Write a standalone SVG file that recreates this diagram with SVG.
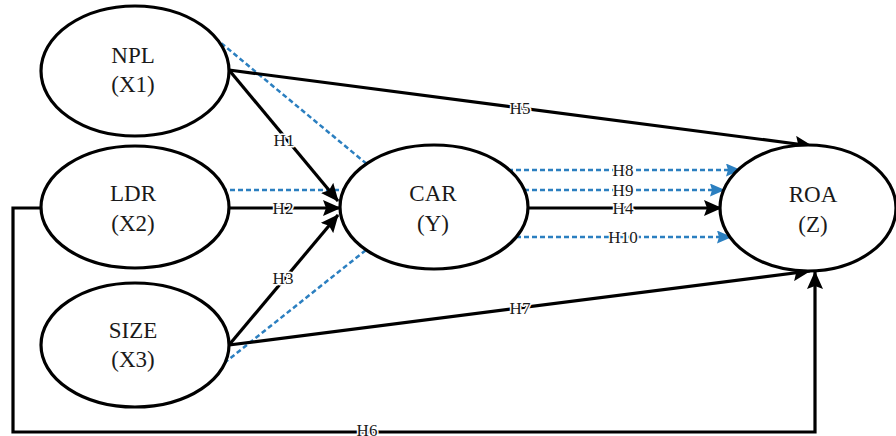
<svg xmlns="http://www.w3.org/2000/svg" width="896" height="436" viewBox="0 0 896 436">
<style>
.node{fill:#fff;stroke:#000;stroke-width:3.2}
.nt{font-family:"Liberation Serif","Times New Roman",serif;font-size:23px;fill:#1a1a1a;text-anchor:middle}
.ln{fill:none;stroke:#000;stroke-width:3.2}
.ds{fill:none;stroke:#2b7fc0;stroke-width:2.5;stroke-dasharray:5 3}
.lb{font-family:"Liberation Serif","Times New Roman",serif;font-size:17px;fill:#1a1a1a;text-anchor:middle;stroke:#fff;stroke-width:3;paint-order:stroke;stroke-linejoin:round}
</style>
<defs>
<marker id="ab" markerUnits="userSpaceOnUse" markerWidth="18" markerHeight="16" refX="17" refY="8" orient="auto"><path d="M0,0 L18,8 L0,16 L3,8 z" fill="#000"/></marker>
<marker id="abl" markerUnits="userSpaceOnUse" markerWidth="15" markerHeight="13" refX="14" refY="6.5" orient="auto"><path d="M0,0 L15,6.5 L0,13 L2,6.5 z" fill="#2b7fc0"/></marker>
</defs>
<rect width="896" height="436" fill="#fff"/>
<g id="connectors">
<line class="ds" x1="215" y1="38" x2="368" y2="165"/>
<line class="ds" x1="222" y1="190" x2="346" y2="190"/>
<line class="ds" x1="218" y1="368" x2="366" y2="250"/>
<line class="ln" x1="229" y1="70" x2="338" y2="201" marker-end="url(#ab)"/>
<line class="ln" x1="229" y1="208" x2="340" y2="208" marker-end="url(#ab)"/>
<line class="ln" x1="229" y1="345" x2="338" y2="215" marker-end="url(#ab)"/>
<line class="ln" x1="229" y1="70" x2="812" y2="146" marker-end="url(#ab)"/>
<line class="ln" x1="229" y1="345" x2="810" y2="271" marker-end="url(#ab)"/>
<path class="ln" d="M41 208 H13 V432 H815 V272" marker-end="url(#ab)"/>
<line class="ds" x1="508" y1="170" x2="740" y2="170" marker-end="url(#abl)"/>
<line class="ds" x1="524" y1="190" x2="724" y2="190" marker-end="url(#abl)"/>
<line class="ln" x1="528" y1="208" x2="721" y2="208" marker-end="url(#ab)"/>
<line class="ds" x1="516" y1="237" x2="731" y2="237" marker-end="url(#abl)"/>
<text class="lb" x="284" y="146">H1</text>
<text class="lb" x="283" y="214">H2</text>
<text class="lb" x="283" y="284">H3</text>
<text class="lb" x="623" y="214">H4</text>
<text class="lb" x="520" y="114">H5</text>
<text class="lb" x="367" y="436">H6</text>
<text class="lb" x="520" y="314">H7</text>
<text class="lb" x="623" y="176">H8</text>
<text class="lb" x="623" y="196">H9</text>
<text class="lb" x="623" y="243">H10</text>
</g>
<g id="npl"><ellipse class="node" cx="135" cy="71" rx="94" ry="65"/><text class="nt" x="133" y="63">NPL</text><text class="nt" x="133" y="92">(X1)</text></g>
<g id="ldr"><ellipse class="node" cx="135" cy="207" rx="94" ry="61"/><text class="nt" x="133" y="201">LDR</text><text class="nt" x="133" y="231">(X2)</text></g>
<g id="size"><ellipse class="node" cx="135" cy="345" rx="94" ry="62"/><text class="nt" x="133" y="338">SIZE</text><text class="nt" x="133" y="367">(X3)</text></g>
<g id="car"><ellipse class="node" cx="434" cy="207" rx="94" ry="62"/><text class="nt" x="433" y="201">CAR</text><text class="nt" x="433" y="231">(Y)</text></g>
<g id="roa"><ellipse class="node" cx="808" cy="208" rx="88" ry="63"/><text class="nt" x="813" y="202">ROA</text><text class="nt" x="813" y="232">(Z)</text></g>
</svg>
